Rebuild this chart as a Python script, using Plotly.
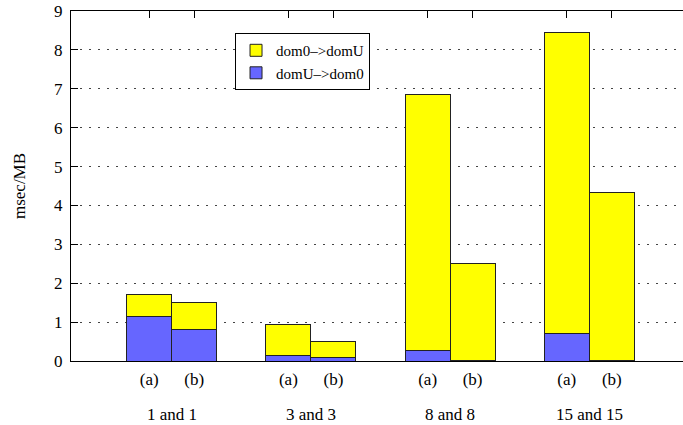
import plotly.graph_objects as go

groups = ["1 and 1", "3 and 3", "8 and 8", "15 and 15"]
variants = ["(a)", "(b)"]
domU_to_dom0_a = [1.15, 0.13, 0.27, 0.70]
domU_to_dom0_b = [0.80, 0.09, 0.01, 0.01]
dom0_to_domU_a = [0.57, 0.82, 6.59, 7.76]
dom0_to_domU_b = [0.70, 0.41, 2.51, 4.32]

BAR_W = 0.3233
OFF = BAR_W / 2
centers = [i + 1 for i in range(len(groups))]
xa = [c - OFF for c in centers]
xb = [c + OFF for c in centers]
xs = xa + xb
tick_text = [variants[0]] * len(groups) + [variants[1]] * len(groups)

FONT = "'Liberation Serif', 'Times New Roman', Times, serif"
line = dict(color="#222222", width=1)

fig = go.Figure()
fig.add_trace(go.Bar(x=xs, y=domU_to_dom0_a + domU_to_dom0_b, width=BAR_W,
                     name="domU–>dom0", marker=dict(color="#6666ff", line=line),
                     legendrank=2))
fig.add_trace(go.Bar(x=xs, y=dom0_to_domU_a + dom0_to_domU_b, width=BAR_W,
                     name="dom0–>domU", marker=dict(color="#ffff00", line=line),
                     legendrank=1))

for c, g in zip(centers, groups):
    fig.add_annotation(x=c, y=0, xref="x", yref="paper", text=g, showarrow=False,
                       yanchor="top", yshift=-42, font=dict(family=FONT, size=17, color="black"))

fig.update_layout(
    width=683, height=425,
    margin=dict(l=71, r=0, t=11, b=64, autoexpand=False),
    barmode="stack",
    plot_bgcolor="white", paper_bgcolor="white",
    font=dict(family=FONT, size=17, color="black"),
    showlegend=True,
    legend=dict(x=0.268, y=0.937, xanchor="left", yanchor="top",
                bgcolor="white", bordercolor="black", borderwidth=1,
                font=dict(family=FONT, size=15, color="black"),
                itemwidth=30, tracegroupgap=0, traceorder="normal"),
)
fig.update_xaxes(range=[0.2766, 4.673], tickvals=xs, ticktext=tick_text, automargin=False,
                 showline=True, linecolor="black", linewidth=1, mirror="ticks",
                 ticks="inside", ticklen=7, tickcolor="black", layer="below traces",
                 showgrid=False, zeroline=False, ticklabelstandoff=3,
                 tickfont=dict(family=FONT, size=17))
fig.update_yaxes(range=[0, 9], dtick=1, showline=True, linecolor="black", linewidth=1,
                 ticks="inside", ticklen=7, tickcolor="black", automargin=False,
                 showgrid=True, gridcolor="#444444", gridwidth=1, griddash="2px,7px",
                 zeroline=False, ticklabelstandoff=4, ticklabeloverflow="allow",
                 title=dict(text="msec/MB", standoff=24, font=dict(family=FONT, size=17)),
                 tickfont=dict(family=FONT, size=17))

fig.write_html("out.html", config={"displayModeBar": False},
               post_script="document.body.style.margin='0';document.body.style.overflow='hidden';")
